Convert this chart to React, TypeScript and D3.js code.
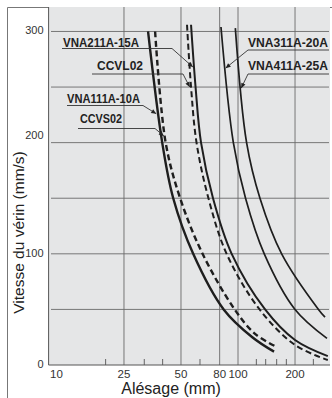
import * as d3 from "d3";

// bore (mm) vs cylinder speed (mm/s)
const boreA = [33.5, 39.8, 45.5, 58, 84, 119, 155];
const speedA = [300, 200, 150, 100, 50, 25, 12];
const boreB = [36.5, 41.5, 49.5, 65, 96, 123, 161];
const speedB = [300, 200, 150, 100, 50, 28, 16];
const boreC = [56.5, 59.7, 63.8, 73.8, 92.6, 139, 200, 298];
const speedC = [306, 250, 200, 150, 100, 50, 22.5, 8];
const boreD = [53.8, 56.5, 60.4, 69.8, 87.1, 130, 200, 298];
const speedD = [306, 250, 200, 150, 100, 50, 18, 4.5];
const boreE = [81.3, 94.5, 109.6, 137.6, 200, 295];
const speedE = [304, 200, 150, 100, 50, 24];
const boreF = [96.8, 111, 130.6, 170, 266, 288];
const speedF = [303, 200, 150, 100, 50, 43];

const xGrid = [25, 50, 80, 100, 200];
const xMinor = [20, 32, 40, 63, 125, 140, 160, 180, 250];
const xTickLabels = [10, 25, 50, 80, 100, 200];
const yGrid = [50, 100, 150, 200, 250, 300];
const yTickLabels = [0, 100, 200, 300];

type Series = { name: string; bore: number[]; speed: number[]; dashed: boolean; w: number };
const series: Series[] = [
  { name: "VNA111A-10A", bore: boreA, speed: speedA, dashed: false, w: 2.4 },
  { name: "CCVS02", bore: boreB, speed: speedB, dashed: true, w: 2.4 },
  { name: "VNA211A-15A", bore: boreC, speed: speedC, dashed: false, w: 2 },
  { name: "CCVL02", bore: boreD, speed: speedD, dashed: true, w: 2 },
  { name: "VNA311A-20A", bore: boreE, speed: speedE, dashed: false, w: 1.7 },
  { name: "VNA411A-25A", bore: boreF, speed: speedF, dashed: false, w: 1.7 },
];

// callouts: text box, underline, and arrow tip in data units
const callouts = [
  { name: "VNA211A-15A", tx: 63, ty: 46.5, tw: 76, lx: 62, ex: 172, ly: 48.5, bore: 57.8, speed: 268 },
  { name: "CCVL02", tx: 97, ty: 70, tw: 46, lx: 92, ex: 183, ly: 74, bore: 55.6, speed: 250 },
  { name: "VNA111A-10A", tx: 67, ty: 103.3, tw: 73, lx: 67, ex: 143, ly: 105.5, bore: 37, speed: 226 },
  { name: "CCVS02", tx: 80, ty: 123.3, tw: 42, lx: 78, ex: 155, ly: 128.5, bore: 40.6, speed: 206 },
  { name: "VNA311A-20A", tx: 248, ty: 46.7, tw: 80, lx: 329, ex: 248, ly: 50, bore: 86, speed: 267 },
  { name: "VNA411A-25A", tx: 248, ty: 70, tw: 80, lx: 329, ex: 248, ly: 74, bore: 104, speed: 249 },
];

const W = 332;
const H = 398;
const left = 48.6;
const right = 330;
const top = 7;
const bottom = 365;

export default function App() {
  const x = d3.scaleLog().domain([10, 306]).range([left, right]);
  const y = d3.scaleLinear().domain([0, 322]).range([bottom, top]);
  const line = d3
    .line<[number, number]>()
    .x((d) => x(d[0]))
    .y((d) => y(d[1]))
    .curve(d3.curveCatmullRom.alpha(0.5));

  const font = "Liberation Sans, Arial, Helvetica, sans-serif";

  return (
    <svg
      width={W}
      height={H}
      style={{ position: "absolute", left: 0, top: 0 }}
      fontFamily={font}
    >
      <defs>
        <marker
          id="arr"
          viewBox="0 0 10 10"
          refX="10"
          refY="5"
          markerWidth="6"
          markerHeight="5"
          markerUnits="userSpaceOnUse"
          orient="auto"
        >
          <path d="M0,0.5 L10,5 L0,9.5 z" fill="#222" />
        </marker>
      </defs>
      <rect x={0} y={0} width={W} height={H} fill="#fff" />
      <line x1={7.5} x2={W} y1={7.5} y2={7.5} stroke="#777" />
      <line x1={7.5} x2={7.5} y1={7.5} y2={H} stroke="#777" />
      <rect x={left} y={top} width={right - left} height={bottom - top} fill="#e5e6e7" />

      {yGrid.map((v) => (
        <line key={"h" + v} x1={51} x2={329} y1={y(v)} y2={y(v)} stroke="#6a6a6a" strokeWidth={0.9} />
      ))}
      {xGrid.map((v) => (
        <line key={"v" + v} x1={x(v)} x2={x(v)} y1={top} y2={bottom} stroke="#6a6a6a" strokeWidth={0.9} />
      ))}
      {xMinor.map((v) => (
        <line key={"m" + v} x1={x(v)} x2={x(v)} y1={bottom} y2={bottom - 6} stroke="#555" strokeWidth={0.9} />
      ))}
      <line x1={left} x2={left} y1={top} y2={bottom} stroke="#555" />
      <line x1={left} x2={right} y1={bottom} y2={bottom} stroke="#555" />

      {series.map((s) => (
        <path
          key={s.name}
          d={line(s.bore.map((b, i) => [b, s.speed[i]] as [number, number])) || ""}
          fill="none"
          stroke="#1e1e1e"
          strokeWidth={s.w}
          strokeDasharray={s.dashed ? "6,3.5" : undefined}
        />
      ))}

      {callouts.map((c) => (
        <g key={c.name}>
          <text
            x={c.tx}
            y={c.ty}
            fontSize={12.5}
            fontWeight="bold"
            fill="#222"
            textLength={c.tw}
            lengthAdjust="spacingAndGlyphs"
          >
            {c.name}
          </text>
          <polyline
            points={`${c.lx},${c.ly} ${c.ex},${c.ly} ${x(c.bore)},${y(c.speed)}`}
            fill="none"
            stroke="#333"
            strokeWidth={0.9}
            markerEnd="url(#arr)"
          />
        </g>
      ))}

      {yTickLabels.map((v) => (
        <text
          key={"yt" + v}
          x={43.5}
          y={y(v) + (v === 200 ? -7 : 0)}
          fontSize={11}
          fill="#333"
          textAnchor="end"
          dominantBaseline="middle"
        >
          {v}
        </text>
      ))}
      {xTickLabels.map((v) => (
        <text
          key={"xt" + v}
          x={v === 10 ? 50 : x(v)}
          y={377.5}
          fontSize={11.5}
          fill="#333"
          textAnchor={v === 10 ? "start" : "middle"}
        >
          {v}
        </text>
      ))}

      <text
        transform="translate(23.5,232.5) rotate(-90)"
        textAnchor="middle"
        fontSize={15.5}
        fill="#222"
      >
        Vitesse du vérin (mm/s)
      </text>
      <text x={171} y={394} textAnchor="middle" fontSize={16} fill="#222">
        Alésage (mm)
      </text>
    </svg>
  );
}
